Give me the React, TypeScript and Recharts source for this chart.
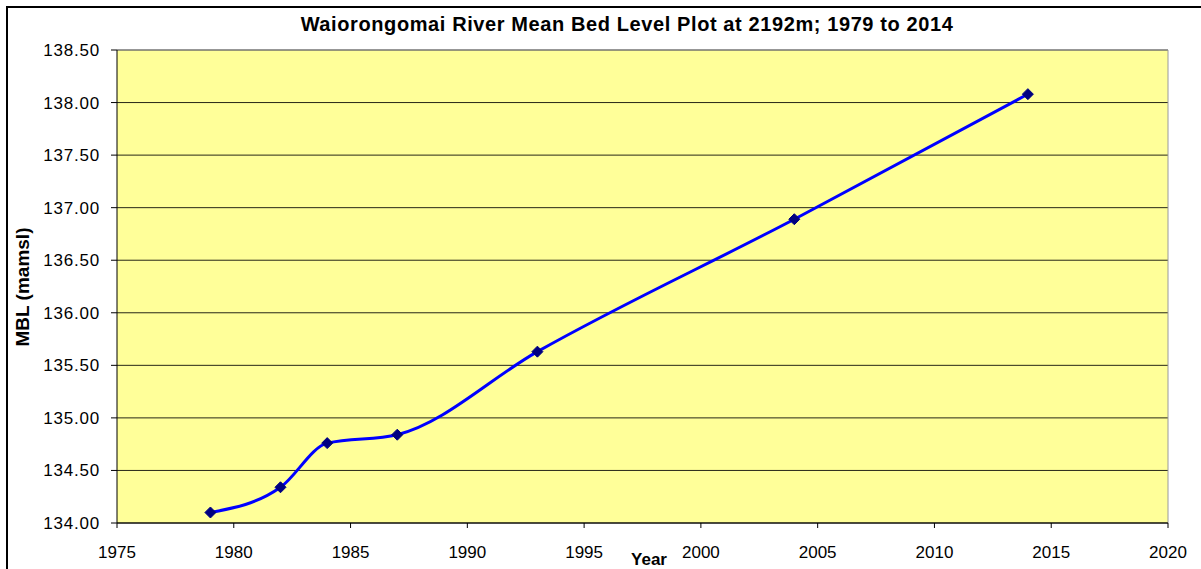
import React from "react";
import {
  LineChart,
  Line,
  XAxis,
  YAxis,
  CartesianGrid,
  ReferenceLine,
} from "recharts";

const years = [1979, 1982, 1984, 1987, 1993, 2004, 2014];
const bedLevels = [134.1, 134.34, 134.76, 134.84, 135.63, 136.89, 138.08];
const xTicks = [1975, 1980, 1985, 1990, 1995, 2000, 2005, 2010, 2015, 2020];
const yTicks = [134, 134.5, 135, 135.5, 136, 136.5, 137, 137.5, 138, 138.5];

const data = years.map((year, i) => ({ year, mbl: bedLevels[i] }));

const font = "'Liberation Sans', Arial, sans-serif";

// diamond marker like the Excel one
const Diamond = (props: any) => {
  const { cx, cy } = props;
  if (cx == null || cy == null) return null;
  const r = 5.5;
  return (
    <polygon
      points={`${cx},${cy - r} ${cx + r},${cy} ${cx},${cy + r} ${cx - r},${cy}`}
      fill="#000080"
      stroke="#000080"
      strokeWidth={1}
    />
  );
};

const App: React.FC = () => {
  return (
    <div
      style={{
        position: "fixed",
        left: 0,
        top: 0,
        width: 1201,
        height: 569,
        overflow: "hidden",
        background: "#fff",
        fontFamily: font,
      }}
    >
      <div
        style={{
          position: "absolute",
          left: 6,
          top: 6,
          width: 1300,
          height: 700,
          border: "2px solid #000",
        }}
      />
      <div
        style={{
          position: "absolute",
          left: 0,
          top: 13,
          width: 1254,
          textAlign: "center",
          fontSize: 20,
          letterSpacing: 0.6,
          fontWeight: 700,
          color: "#000",
          whiteSpace: "nowrap",
        }}
      >
        Waiorongomai River Mean Bed Level Plot at 2192m; 1979 to 2014
      </div>
      <div
        style={{
          position: "absolute",
          left: 23,
          top: 287,
          transform: "translate(-50%, -50%) rotate(-90deg)",
          fontSize: 19,
          fontWeight: 700,
          whiteSpace: "nowrap",
        }}
      >
        MBL (mamsl)
      </div>
      <div
        style={{
          position: "absolute",
          left: 649,
          top: 550,
          transform: "translateX(-50%)",
          fontSize: 17,
          fontWeight: 700,
          whiteSpace: "nowrap",
        }}
      >
        Year
      </div>
      <div style={{ position: "absolute", left: 0, top: 0 }}>
        <LineChart
          width={1201}
          height={569}
          data={data}
          margin={{ top: 50, right: 33, left: 57, bottom: 16 }}
        >
          <CartesianGrid
            vertical={false}
            stroke="#000"
            strokeOpacity={0.85}
            fill="#FFFF99"
            fillOpacity={1}
          />
          <XAxis
            dataKey="year"
            type="number"
            domain={[1975, 2020]}
            ticks={xTicks}
            interval={0}
            height={30}
            stroke="#000"
            tickSize={5}
            tickMargin={18}
            tick={{ fill: "#000", fontSize: 17, fontFamily: font }}
          />
          <YAxis
            domain={[134, 138.5]}
            ticks={yTicks}
            interval={0}
            width={60}
            stroke="#000"
            tickSize={6}
            tickMargin={11}
            tickFormatter={(v: number) => v.toFixed(2)}
            tick={{ fill: "#000", fontSize: 17, fontFamily: font, letterSpacing: 0.8 }}
          />
          <ReferenceLine y={138.5} stroke="#9a9a9a" strokeWidth={1} />
          <ReferenceLine x={2020} stroke="#9a9a9a" strokeWidth={1} />
          <Line
            type="monotone"
            dataKey="mbl"
            stroke="#0000FF"
            strokeWidth={3}
            dot={<Diamond />}
            activeDot={false}
            isAnimationActive={false}
          />
        </LineChart>
      </div>
    </div>
  );
};

export default App;
